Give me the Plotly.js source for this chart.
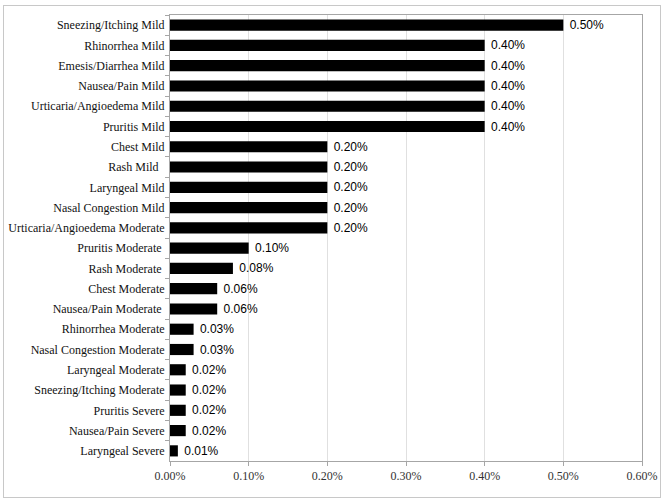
<!DOCTYPE html>
<html>
<head>
<meta charset="utf-8">
<script src="https://cdn.plot.ly/plotly-3.0.1.min.js"></script>
<style>
  html, body { margin: 0; padding: 0; background: #fff; }
  #wrap { position: relative; width: 665px; height: 500px; }
  #chart { position: absolute; left: 0; top: 0; width: 665px; height: 500px; }
  #frame { position: absolute; left: 3px; top: 5px; width: 656px; height: 491px; border: 1px solid #c8c8c8; pointer-events: none; }
</style>
</head>
<body>
<div id="wrap">
  <div id="chart"></div>
  <div id="frame"></div>
</div>
<script>
var categories = [
  "Sneezing/Itching Mild",
  "Rhinorrhea Mild",
  "Emesis/Diarrhea Mild",
  "Nausea/Pain Mild",
  "Urticaria/Angioedema Mild",
  "Pruritis Mild",
  "Chest Mild",
  "Rash Mild\u00a0\u00a0",
  "Laryngeal Mild",
  "Nasal Congestion Mild",
  "Urticaria/Angioedema Moderate",
  "Pruritis Moderate\u00a0",
  "Rash Moderate\u00a0",
  "Chest Moderate",
  "Nausea/Pain Moderate\u00a0",
  "Rhinorrhea Moderate",
  "Nasal Congestion Moderate",
  "Laryngeal Moderate",
  "Sneezing/Itching Moderate",
  "Pruritis Severe",
  "Nausea/Pain Severe",
  "Laryngeal Severe"
];
var values = [
  0.005, 0.004, 0.004, 0.004, 0.004, 0.004,
  0.002, 0.002, 0.002, 0.002, 0.002,
  0.001, 0.0008, 0.0006, 0.0006, 0.0003, 0.0003,
  0.0002, 0.0002, 0.0002, 0.0002, 0.0001
];
var xTickVals = [0, 0.001, 0.002, 0.003, 0.004, 0.005, 0.006];
var xTickText = ["0.00%", "0.10%", "0.20%", "0.30%", "0.40%", "0.50%", "0.60%"];

var trace = {
  type: "bar",
  orientation: "h",
  x: values,
  y: categories,
  marker: { color: "#000000" },
  texttemplate: "\u00a0%{x:.2%}",
  textposition: "outside",
  constraintext: "none",
  textfont: { family: "Liberation Sans, Arial, sans-serif", size: 12, color: "#000" },
  cliponaxis: false,
  hoverinfo: "none"
};

var layout = {
  width: 665,
  height: 500,
  margin: { l: 170, r: 23, t: 15, b: 39, pad: 0 },
  paper_bgcolor: "#ffffff",
  plot_bgcolor: "#ffffff",
  showlegend: false,
  bargap: 0.45,
  font: { family: "Liberation Serif, Times New Roman, serif", size: 12, color: "#000" },
  xaxis: {
    range: [0, 0.006],
    tickvals: xTickVals,
    ticktext: xTickText,
    showgrid: true,
    gridcolor: "#e0e0e0",
    gridwidth: 1,
    showline: true,
    linecolor: "#a6a6a6",
    linewidth: 1,
    mirror: true,
    ticks: "outside",
    ticklen: 4,
    tickcolor: "#a6a6a6",
    zeroline: false,
    tickfont: { family: "Liberation Serif, Times New Roman, serif", size: 12, color: "#333" },
    fixedrange: true
  },
  yaxis: {
    type: "category",
    autorange: "reversed",
    showgrid: false,
    showline: true,
    linecolor: "#a6a6a6",
    linewidth: 1,
    mirror: true,
    ticks: "outside",
    tickson: "boundaries",
    ticklen: 4,
    tickcolor: "#a6a6a6",
    ticklabelstandoff: 2,
    tickfont: { family: "Liberation Serif, Times New Roman, serif", size: 12, color: "#111" },
    fixedrange: true
  }
};

Plotly.newPlot("chart", [trace], layout, { displayModeBar: false, staticPlot: true });
</script>
</body>
</html>
